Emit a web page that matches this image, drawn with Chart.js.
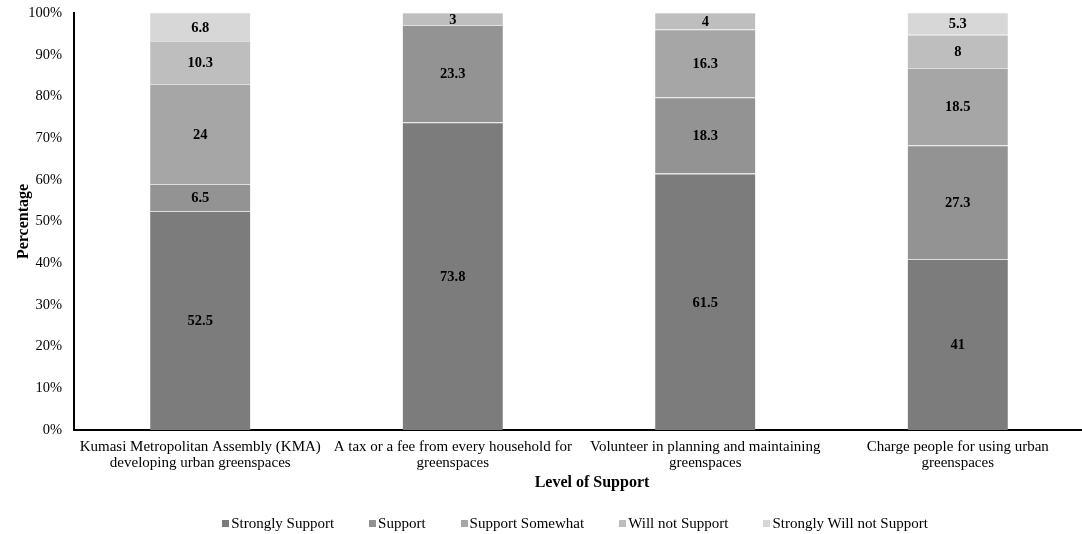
<!DOCTYPE html>
<html>
<head>
<meta charset="utf-8">
<script src="https://cdn.jsdelivr.net/npm/chart.js@4.4.1/dist/chart.umd.min.js"></script>
<style>
  html, body { margin: 0; padding: 0; background: #ffffff; }
  #wrap { position: relative; width: 1082px; height: 534px; overflow: hidden; }
  #chart { position: absolute; left: 0; top: 0; }
  #legend {
    position: absolute; left: 0; top: 514px; width: 1150px;
    display: flex; justify-content: center;
    font: 15px "Liberation Serif", "Times New Roman", serif;
    line-height: 18px; color: #000; white-space: nowrap;
  }
  #legend .item { display: flex; align-items: center; margin: 0 17.5px; }
  #legend .swatch { width: 7px; height: 7px; margin-right: 2px; }
</style>
</head>
<body>
<div id="wrap">
  <canvas id="chart" width="1084" height="534"></canvas>
  <div id="legend"></div>
</div>
<script>
// Survey responses: willingness to support urban greenspace measures (%)
const categories = [
  ['Kumasi Metropolitan Assembly (KMA)', 'developing urban greenspaces'],
  ['A tax or a fee from every household for', 'greenspaces'],
  ['Volunteer in planning and maintaining', 'greenspaces'],
  ['Charge people for using urban', 'greenspaces']
];
const seriesNames = ['Strongly Support', 'Support', 'Support Somewhat', 'Will not Support', 'Strongly Will not Support'];
const stronglySupport        = [52.5, 73.8, 61.5, 41];
const support                = [6.5, 23.3, 18.3, 27.3];
const supportSomewhat        = [24, null, 16.3, 18.5];
const willNotSupport         = [10.3, 3, 4, 8];
const stronglyWillNotSupport = [6.8, null, null, 5.3];
const yTickValues = [0, 10, 20, 30, 40, 50, 60, 70, 80, 90, 100];
const xAxisTitle = 'Level of Support';
const yAxisTitle = 'Percentage';

const seriesValues = [stronglySupport, support, supportSomewhat, willNotSupport, stronglyWillNotSupport];
const seriesColors = ['#7c7c7c', '#939393', '#a6a6a6', '#bebebe', '#d7d7d7'];
const SERIF = '"Liberation Serif", "Times New Roman", serif';

// Value labels centred in each stacked segment
const segmentLabels = {
  id: 'segmentLabels',
  afterDatasetsDraw(chart) {
    const ctx = chart.ctx;
    ctx.save();
    ctx.font = 'bold 14.5px ' + SERIF;
    ctx.fillStyle = '#000';
    ctx.textAlign = 'center';
    ctx.textBaseline = 'middle';
    chart.data.datasets.forEach((ds, di) => {
      const meta = chart.getDatasetMeta(di);
      meta.data.forEach((bar, i) => {
        const v = ds.data[i];
        if (v === null || v === undefined) return;
        const p = bar.getProps(['x', 'y', 'base'], true);
        ctx.fillText(String(v), p.x, (p.y + p.base) / 2 + 1);
      });
    });
    ctx.restore();
  }
};

// Horizontal axis caption below the category labels
const xCaption = {
  id: 'xCaption',
  afterDraw(chart) {
    const ctx = chart.ctx;
    const xs = chart.scales.x;
    const area = chart.chartArea;
    ctx.save();
    ctx.font = 'bold 16px ' + SERIF;
    ctx.fillStyle = '#000';
    ctx.textAlign = 'center';
    ctx.textBaseline = 'middle';
    ctx.fillText(xAxisTitle, (area.left + area.right) / 2 + 13, xs.top + 52.5);
    ctx.restore();
  }
};

const chart = new Chart(document.getElementById('chart'), {
  type: 'bar',
  data: {
    labels: categories,
    datasets: seriesNames.map((name, i) => ({
      label: name,
      data: seriesValues[i],
      backgroundColor: seriesColors[i],
      borderColor: '#dedede',
      borderWidth: { top: 1, right: 0, bottom: 0, left: 0 },
      borderSkipped: false,
      barPercentage: 1,
      categoryPercentage: 0.397
    }))
  },
  options: {
    responsive: false,
    animation: false,
    layout: { padding: { top: 13, right: 0, bottom: 0, left: 0 } },
    plugins: { legend: { display: false }, tooltip: { enabled: false } },
    scales: {
      x: {
        stacked: true,
        grid: { display: false, drawTicks: false },
        border: { display: true, color: '#000', width: 2 },
        ticks: {
          color: '#000',
          font: { family: SERIF, size: 15, lineHeight: 1.05 },
          padding: 9,
          maxRotation: 0,
          autoSkip: false
        },
        afterFit(scale) { scale.height = 104; }
      },
      y: {
        stacked: true,
        min: 0,
        max: 100,
        grid: { display: false, drawTicks: false },
        border: { display: true, color: '#000', width: 2 },
        afterBuildTicks(scale) { scale.ticks = yTickValues.map(v => ({ value: v })); },
        ticks: {
          color: '#000',
          font: { family: SERIF, size: 14.5 },
          padding: 12,
          callback: v => v + '%'
        },
        title: {
          display: true,
          text: yAxisTitle,
          color: '#000',
          font: { family: SERIF, size: 16, weight: 'bold' },
          padding: { top: 14, bottom: 0 }
        },
        afterFit(scale) {
          scale.width = 74;
          scale.paddingTop = 0;
          scale.paddingBottom = 0;
        }
      }
    }
  },
  plugins: [segmentLabels, xCaption]
});

// Legend built from the dataset names and colours
const legendEl = document.getElementById('legend');
chart.data.datasets.forEach(ds => {
  const item = document.createElement('span');
  item.className = 'item';
  const sw = document.createElement('span');
  sw.className = 'swatch';
  sw.style.background = ds.backgroundColor;
  const txt = document.createElement('span');
  txt.textContent = ds.label;
  item.appendChild(sw);
  item.appendChild(txt);
  legendEl.appendChild(item);
});
</script>
</body>
</html>
